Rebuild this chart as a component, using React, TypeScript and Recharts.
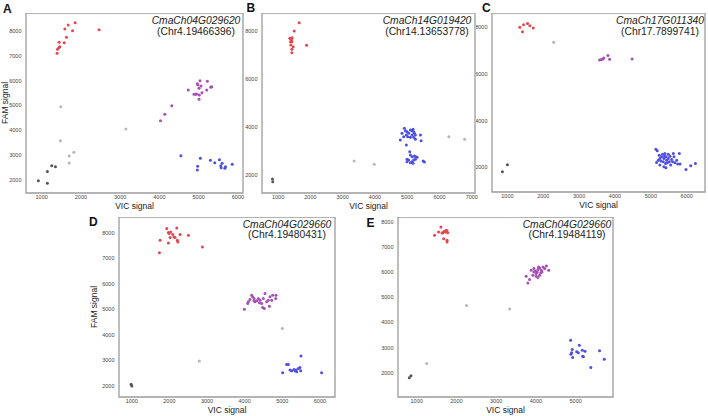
import { ScatterChart, Scatter, XAxis, YAxis, ReferenceArea } from "recharts"

type Pt = [number, number]

const RED = "#e3464e"
const PURPLE = "#a64fb4"
const BLUE = "#4d4fe2"
const GRAY = "#b5b5b5"
const DARK = "#555555"

// tick labels
const xTicks6 = [1000, 2000, 3000, 4000, 5000, 6000]
const xTicks7 = [1000, 2000, 3000, 4000, 5000, 6000, 7000]
const xTicks5 = [1000, 2000, 3000, 4000, 5000]
const yTicksFine = [2000, 3000, 4000, 5000, 6000, 7000, 8000]
const yTicksWide = [2000, 4000, 6000, 8000]

// panel titles
const genes = ["CmaCh04G029620", "CmaCh14G019420", "CmaCh17G011340", "CmaCh04G029660", "CmaCh04G029660"]
const markers = ["(Chr4.19466396)", "(Chr14.13653778)", "(Chr17.7899741)", "(Chr4.19480431)", "(Chr4.19484119)"]

// A
const aRed: Pt[] = [[1393, 7100], [1402, 7262], [1436, 7329], [1462, 7369], [1444, 7544], [1573, 7530], [1590, 8080], [1675, 8242], [1632, 7745], [1786, 8013], [1855, 8336], [2462, 8054]]
const aPurple: Pt[] = [[4026, 4389], [4137, 4644], [4316, 4993], [4735, 5624], [4880, 5450], [4923, 5450], [4966, 5879], [4983, 5826], [5034, 6000], [5009, 5691], [5060, 5785], [5085, 5517], [5017, 5423], [5009, 5248], [5205, 5624], [5222, 5973], [5308, 5731], [5333, 5758], [4949, 5463]]
const aBlue: Pt[] = [[4547, 2980], [5043, 2872], [5299, 2792], [5410, 2698], [5530, 2819], [5564, 2577], [5598, 2671], [5573, 2497], [5667, 2470], [5684, 2537], [5855, 2631], [4974, 2550], [4966, 2403]]
const aGray: Pt[] = [[1487, 4953], [1479, 3584], [1700, 2966], [1700, 2685], [1820, 3114], [3145, 4054]]
const aDark: Pt[] = [[915, 1973], [1145, 2336], [1145, 1866], [1256, 2577], [1350, 2537]]

// B
const bRed: Pt[] = [[1654, 8347], [1498, 8000], [1363, 7694], [1394, 7667], [1415, 7625], [1436, 7722], [1384, 7556], [1425, 7556], [1394, 7417], [1467, 7347], [1425, 7236], [1425, 7097], [1882, 7403]]
const bBlue: Pt[] = [[4911, 3944], [4942, 3847], [4994, 3806], [5046, 3736], [5098, 3875], [5149, 3847], [5180, 3903], [5201, 3806], [5222, 3736], [5253, 3667], [4973, 3667], [5015, 3597], [5098, 3569], [5201, 3569], [5253, 3486], [4890, 3597], [4786, 3458], [4838, 3736], [5149, 3667], [5409, 3667], [5429, 3431], [4973, 3250], [5077, 2972], [5098, 2833], [5149, 2764], [5222, 2792], [5263, 2764], [5305, 2736], [5201, 2625], [5149, 2556], [5046, 2625], [4994, 2653], [5098, 2514], [5492, 2583], [5533, 2542], [5253, 2653], [5180, 2486], [4994, 2556]]
const bGray: Pt[] = [[3355, 2583], [3977, 2444], [6290, 3597], [6778, 3486]]
const bDark: Pt[] = [[824, 1833], [834, 1722]]

// C
const cRed: Pt[] = [[1346, 7986], [1421, 7801], [1449, 8099], [1561, 8156], [1626, 8057], [1720, 7957]]
const cPurple: Pt[] = [[3570, 6596], [3617, 6610], [3664, 6638], [3692, 6681], [3804, 6780], [3850, 6624], [4477, 6638]]
const cBlue: Pt[] = [[5140, 2780], [5178, 2709], [5234, 2525], [5299, 2454], [5327, 2567], [5364, 2383], [5393, 2596], [5421, 2454], [5439, 2312], [5458, 2199], [5411, 2170], [5346, 2241], [5280, 2270], [5206, 2312], [5159, 2213], [5252, 2099], [5364, 2028], [5421, 1986], [5486, 2383], [5533, 2482], [5579, 2340], [5607, 2241], [5645, 2454], [5673, 2199], [5720, 2312], [5748, 2142], [5794, 2596], [5551, 2099], [5486, 2567], [5626, 2596], [5813, 2142], [5981, 1915], [6112, 2071], [6243, 2170], [5514, 2241], [5252, 2383], [5383, 2482]]
const cGray: Pt[] = [[2290, 7348]]
const cDark: Pt[] = [[860, 1816], [1000, 2113]]

// D
const dRed: Pt[] = [[1929, 8156], [1752, 7700], [1735, 7205], [1973, 8000], [1991, 7961], [2018, 7804], [1973, 7596], [2088, 7922], [2124, 7831], [2150, 7804], [2195, 8183], [2212, 7700], [2221, 7635], [2283, 7922], [2504, 7896], [2876, 7439], [2035, 8026]]
const dPurple: Pt[] = [[3991, 5001], [4097, 5288], [4080, 5223], [4142, 5379], [4212, 5484], [4248, 5418], [4274, 5288], [4319, 5327], [4363, 5418], [4389, 5249], [4407, 5353], [4451, 5223], [4496, 5418], [4540, 5614], [4584, 5288], [4628, 5353], [4673, 5484], [4717, 5353], [4743, 5549], [4655, 5119], [4478, 5066], [4522, 5027], [4186, 5549], [4248, 5327], [4832, 5549], [4823, 5418]]
const dBlue: Pt[] = [[5009, 2511], [5115, 2837], [5159, 2837], [5204, 2615], [5248, 2589], [5310, 2641], [5363, 2615], [5381, 2550], [5425, 2680], [5469, 2720], [5487, 2589], [5496, 3163], [6044, 2511], [5336, 2589]]
const dGray: Pt[] = [[2796, 2967], [5000, 4245]]
const dDark: Pt[] = [[982, 2055], [1000, 1990]]

// E
const eRed: Pt[] = [[1449, 7470], [1551, 7603], [1610, 7801], [1661, 7576], [1695, 7629], [1720, 7603], [1746, 7669], [1763, 7642], [1780, 7576], [1678, 7338], [1763, 7272], [1763, 7205], [1636, 7563]]
const ePurple: Pt[] = [[3754, 5841], [3839, 5709], [3797, 5576], [3881, 6079], [3949, 6146], [3983, 6053], [4008, 5947], [4034, 6013], [4051, 6106], [4068, 6212], [4093, 5881], [4119, 5974], [4136, 6079], [4153, 6013], [4178, 6212], [4220, 6146], [4263, 6252], [4322, 6079], [4008, 5841], [3924, 5881], [4051, 5788], [3949, 6013], [4093, 6172]]
const eBlue: Pt[] = [[4873, 3298], [4915, 2927], [4898, 2795], [4924, 2609], [4881, 2742], [5025, 2834], [5093, 3099], [5068, 2795], [5169, 2901], [5178, 2662], [5195, 2636], [5237, 2861], [5381, 2212], [5602, 2874], [5720, 2543]]
const eGray: Pt[] = [[1254, 2371], [2254, 4675], [3339, 4543]]
const eDark: Pt[] = [[814, 1801], [856, 1881]]

const toPts = (arr: Pt[]) => arr.map(([x, y]) => ({ x, y }))

type Group = { color: string; pts: Pt[] }

type PanelProps = {
  left: number
  top: number
  width: number
  height: number
  yw: number
  xh: number
  xDomain: [number, number]
  yDomain: [number, number]
  xTicks: number[]
  yTicks: number[]
  groups: Group[]
}

// extra room on the right so the last tick label is not clipped
const PAD_R = 10

function Dot(props: any) {
  const { cx, cy, fill } = props
  if (cx == null || cy == null) return null
  return <circle cx={cx} cy={cy} r={1.5} fill={fill} />
}

function Panel({ left, top, width, height, yw, xh, xDomain, yDomain, xTicks, yTicks, groups }: PanelProps) {
  return (
    <div style={{ position: "absolute", left, top }}>
      <ScatterChart width={width + PAD_R} height={height} margin={{ top: 0, right: PAD_R, bottom: 0, left: 0 }}>
        <XAxis
          type="number"
          dataKey="x"
          domain={xDomain}
          allowDataOverflow
          ticks={xTicks}
          interval={0}
          height={xh}
          axisLine={false}
          tickLine={false}
          tickSize={0}
          tickMargin={2.5}
          tick={{ fontSize: 5.5, fill: "#444" }}
          label={{ value: "VIC signal", position: "insideBottom", offset: xh - 16, fontSize: 8.5, fill: "#222" }}
        />
        <YAxis
          type="number"
          dataKey="y"
          domain={yDomain}
          allowDataOverflow
          ticks={yTicks}
          interval={0}
          width={yw}
          axisLine={false}
          tickLine={false}
          tickSize={0}
          tickMargin={4.5}
          tick={{ fontSize: 5.5, fill: "#444" }}
        />
        <ReferenceArea
          x1={xDomain[0]}
          x2={xDomain[1]}
          y1={yDomain[0]}
          y2={yDomain[1]}
          fill="none"
          stroke="#9c9c9c"
          strokeWidth={1.3}
        />
        {groups.map((g, i) => (
          <Scatter key={i} data={toPts(g.pts)} fill={g.color} shape={Dot} isAnimationActive={false} />
        ))}
      </ScatterChart>
    </div>
  )
}

const titleSpots = [
  { cx: 196, y: 24 },
  { cx: 427, y: 24 },
  { cx: 660, y: 24 },
  { cx: 287, y: 227.5 },
  { cx: 567, y: 227.5 },
]

const letters = [
  { t: "A", x: 3, y: 12.5 },
  { t: "B", x: 246.5, y: 12 },
  { t: "C", x: 482, y: 12 },
  { t: "D", x: 89, y: 225.5 },
  { t: "E", x: 366.5, y: 227 },
]

export default function App() {
  return (
    <div
      style={{
        position: "absolute",
        left: 0,
        top: 0,
        width: 708,
        height: 416,
        overflow: "hidden",
        background: "#fff",
        fontFamily: "'Liberation Sans', Arial, sans-serif",
      }}
    >
      <Panel
        left={0} top={13} width={243} height={200} yw={26} xh={20}
        xDomain={[600, 6130]} yDomain={[1475, 8725]}
        xTicks={xTicks6} yTicks={yTicksFine}
        groups={[
          { color: GRAY, pts: aGray },
          { color: DARK, pts: aDark },
          { color: RED, pts: aRed },
          { color: PURPLE, pts: aPurple },
          { color: BLUE, pts: aBlue },
        ]}
      />
      <Panel
        left={244} top={13} width={231} height={200} yw={18} xh={20}
        xDomain={[500, 7100]} yDomain={[1250, 8750]}
        xTicks={xTicks7} yTicks={yTicksWide}
        groups={[
          { color: GRAY, pts: bGray },
          { color: DARK, pts: bDark },
          { color: RED, pts: bRed },
          { color: BLUE, pts: bBlue },
        ]}
      />
      <Panel
        left={476} top={13} width={229} height={199} yw={16} xh={20}
        xDomain={[570, 6510]} yDomain={[950, 8600]}
        xTicks={xTicks6} yTicks={yTicksWide}
        groups={[
          { color: GRAY, pts: cGray },
          { color: DARK, pts: cDark },
          { color: RED, pts: cRed },
          { color: PURPLE, pts: cPurple },
          { color: BLUE, pts: cBlue },
        ]}
      />
      <Panel
        left={100} top={217} width={235} height={199} yw={19} xh={19}
        xDomain={[660, 6400]} yDomain={[1560, 8610]}
        xTicks={xTicks6} yTicks={yTicksFine}
        groups={[
          { color: GRAY, pts: dGray },
          { color: DARK, pts: dDark },
          { color: RED, pts: dRed },
          { color: PURPLE, pts: dPurple },
          { color: BLUE, pts: dBlue },
        ]}
      />
      <Panel
        left={378} top={217} width={235} height={199} yw={20} xh={19}
        xDomain={[530, 5940]} yDomain={[1036, 8200]}
        xTicks={xTicks5} yTicks={yTicksFine}
        groups={[
          { color: GRAY, pts: eGray },
          { color: DARK, pts: eDark },
          { color: RED, pts: eRed },
          { color: PURPLE, pts: ePurple },
          { color: BLUE, pts: eBlue },
        ]}
      />
      <svg width={708} height={416} style={{ position: "absolute", left: 0, top: 0, pointerEvents: "none" }}>
        {letters.map((l) => (
          <text key={l.t} x={l.x} y={l.y} fontSize={12} fontWeight="bold" fill="#111">
            {l.t}
          </text>
        ))}
        {titleSpots.map((s, i) => (
          <g key={i}>
            <text x={s.cx} y={s.y} textAnchor="middle" fontSize={10.3} fontStyle="italic" fill="#222">
              {genes[i]}
            </text>
            <text x={s.cx} y={s.y + 10.5} textAnchor="middle" fontSize={10.3} fill="#222">
              {markers[i]}
            </text>
          </g>
        ))}
        <text transform="translate(8,103) rotate(-90)" textAnchor="middle" fontSize={8.5} fill="#222">
          FAM signal
        </text>
        <text transform="translate(97,307) rotate(-90)" textAnchor="middle" fontSize={8.5} fill="#222">
          FAM signal
        </text>
      </svg>
    </div>
  )
}
